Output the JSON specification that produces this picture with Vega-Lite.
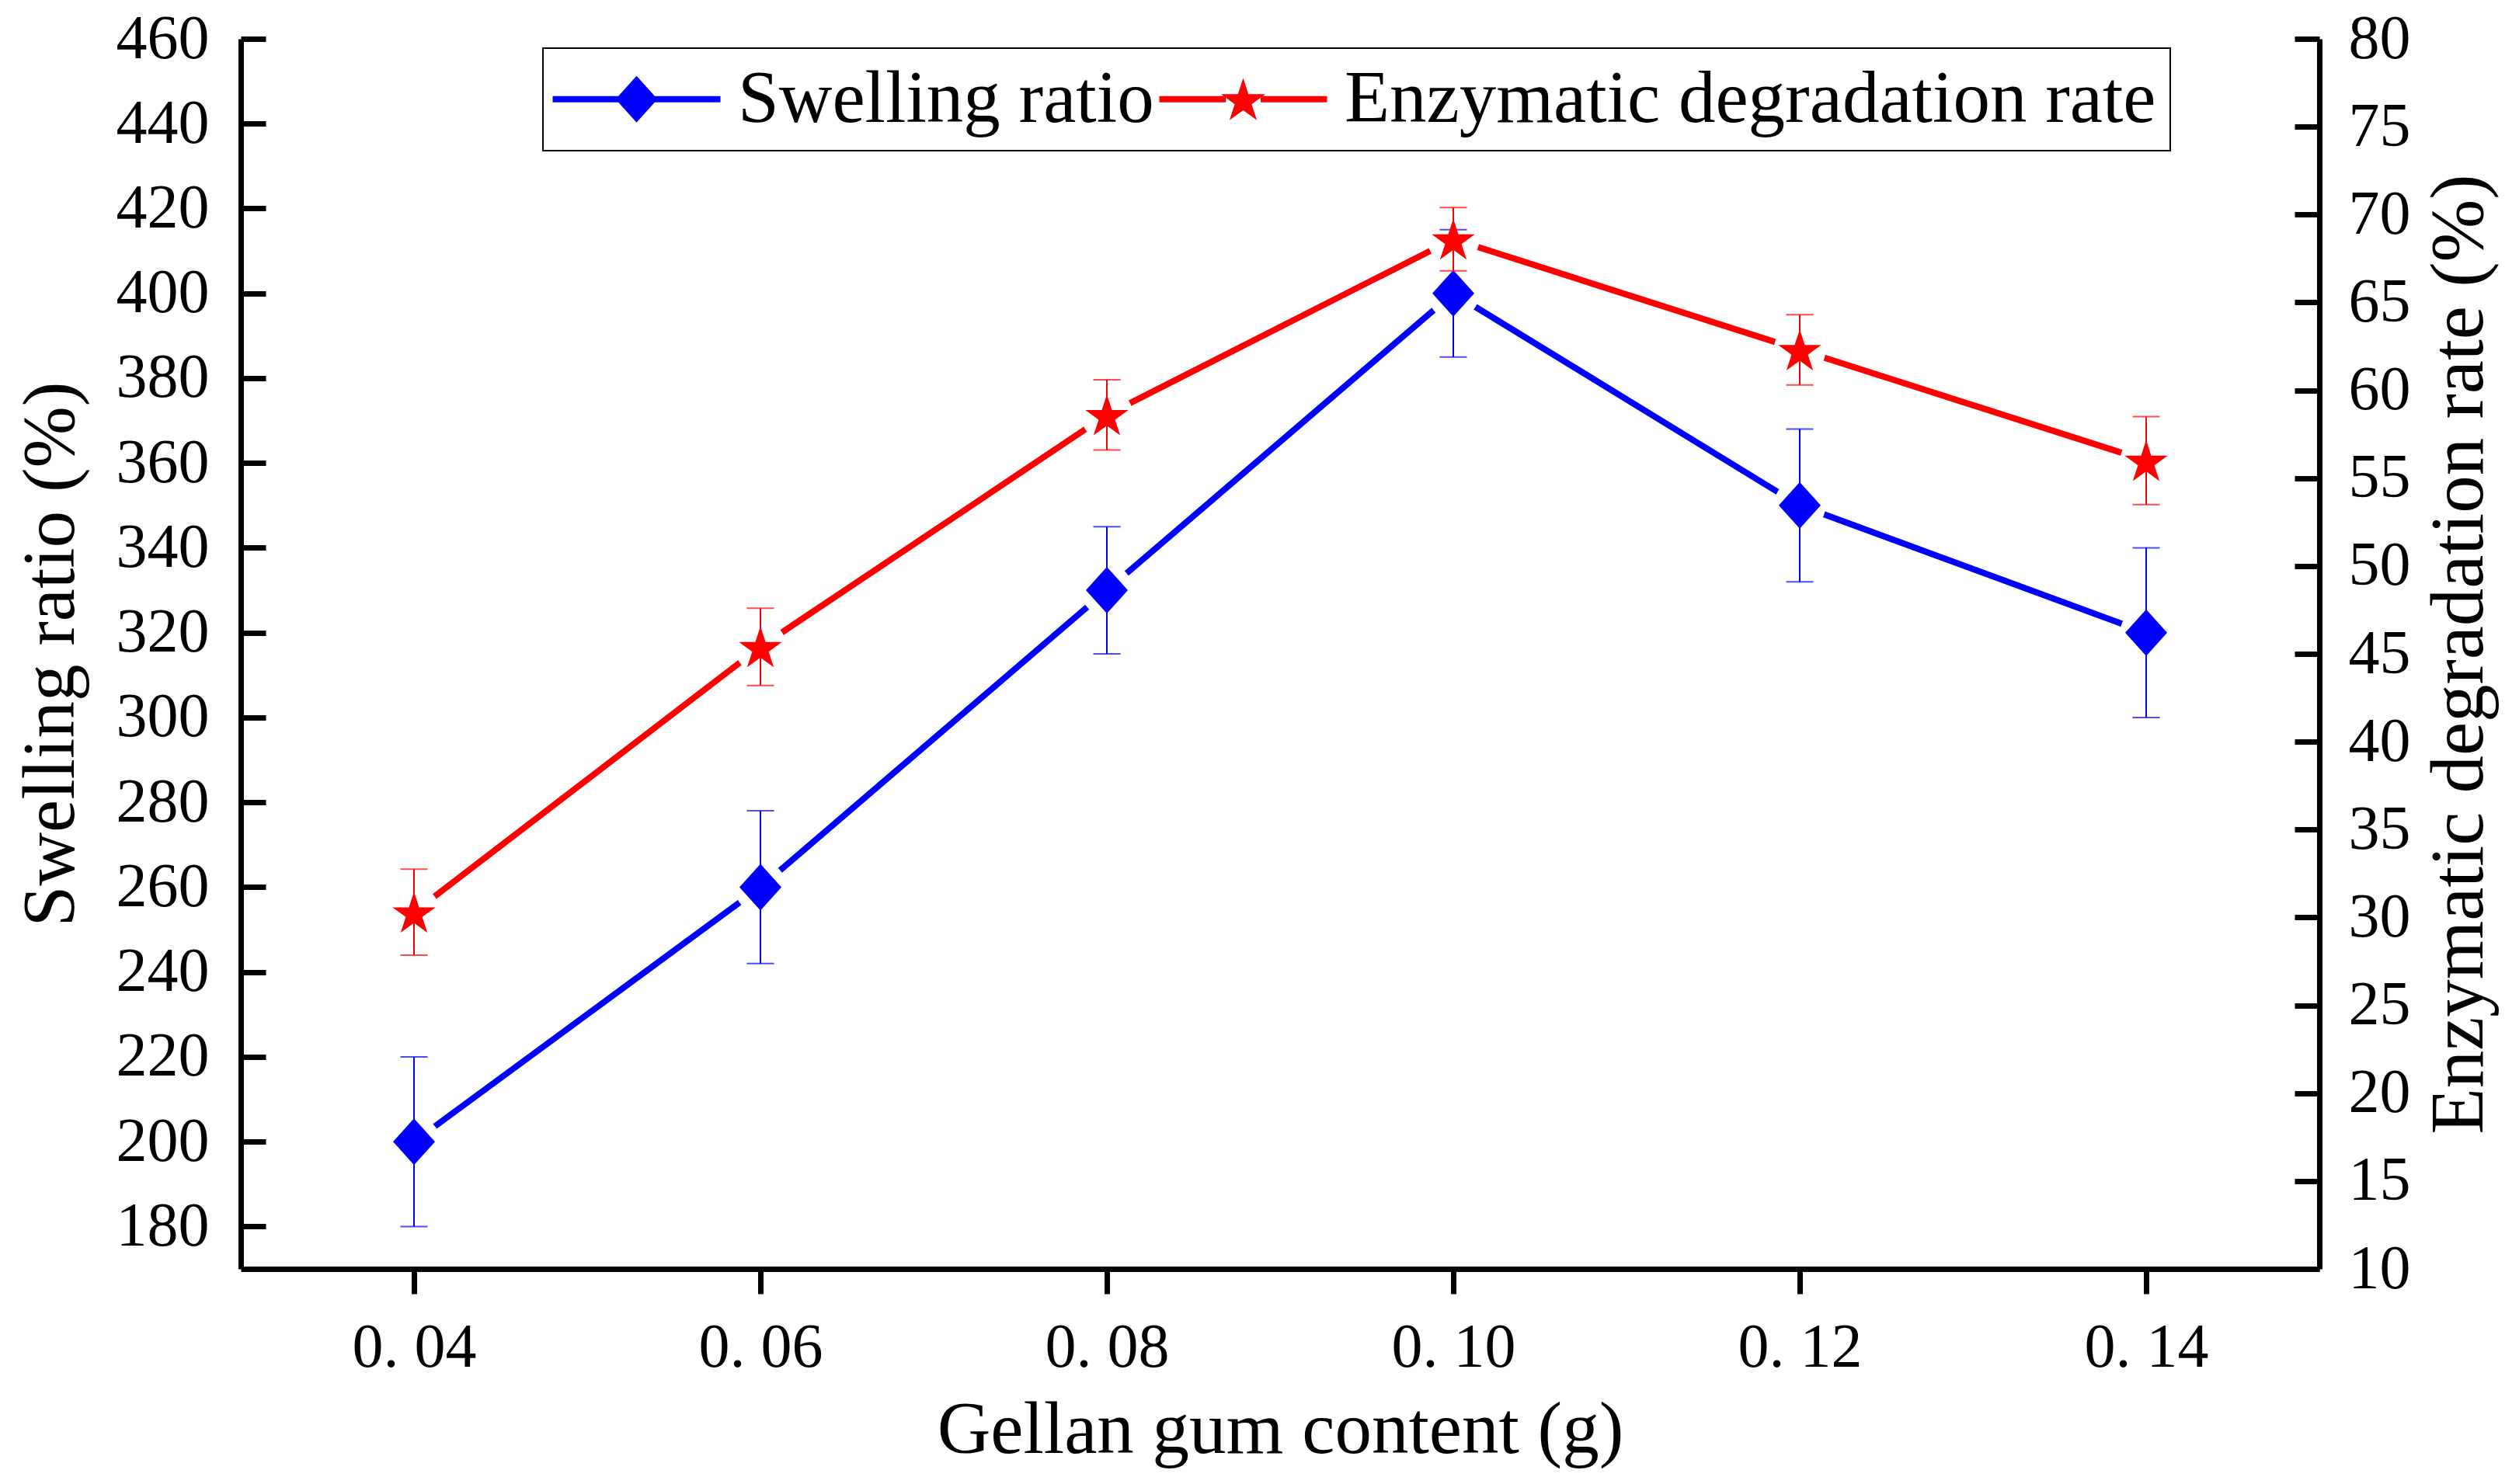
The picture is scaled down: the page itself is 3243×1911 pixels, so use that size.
{
  "$schema": "https://vega.github.io/schema/vega-lite/v6.json",
  "description": "Swelling ratio and enzymatic degradation rate against gellan gum content.",
  "width": 2676,
  "height": 1584,
  "autosize": {"type": "none"},
  "padding": {"left": 310, "top": 50, "right": 257, "bottom": 277},
  "background": "white",
  "data": {
    "values": [
      {"content": 0.04, "Swelling ratio": 200, "swelling_sd": 20, "Enzymatic degradation rate": 30.3, "degradation_sd": 2.45},
      {"content": 0.06, "Swelling ratio": 260, "swelling_sd": 18, "Enzymatic degradation rate": 45.4, "degradation_sd": 2.2},
      {"content": 0.08, "Swelling ratio": 330, "swelling_sd": 15, "Enzymatic degradation rate": 58.6, "degradation_sd": 2.0},
      {"content": 0.10, "Swelling ratio": 400, "swelling_sd": 15, "Enzymatic degradation rate": 68.6, "degradation_sd": 1.8},
      {"content": 0.12, "Swelling ratio": 350, "swelling_sd": 18, "Enzymatic degradation rate": 62.3, "degradation_sd": 2.0},
      {"content": 0.14, "Swelling ratio": 320, "swelling_sd": 20, "Enzymatic degradation rate": 56.0, "degradation_sd": 2.5}
    ]
  },
  "encoding": {
    "x": {
      "field": "content",
      "type": "quantitative",
      "scale": {"domain": [0.03, 0.15], "nice": false, "zero": false},
      "axis": {
        "title": "Gellan gum content (g)",
        "values": [0.04, 0.06, 0.08, 0.10, 0.12, 0.14],
        "labelExpr": "replace(format(datum.value, '.2f'), '.', '. ')",
        "tickSize": 32,
        "labelPadding": 30,
        "titlePadding": 20
      }
    }
  },
  "layer": [
    {
      "mark": {"type": "line", "color": "#0000ff", "strokeWidth": 8, "strokeCap": "round"},
      "encoding": {
        "y": {
          "field": "Swelling ratio",
          "type": "quantitative",
          "scale": {"domain": [170, 460], "nice": false, "zero": false},
          "axis": {
            "orient": "left",
            "title": "Swelling ratio (%)",
            "values": [180, 200, 220, 240, 260, 280, 300, 320, 340, 360, 380, 400, 420, 440, 460],
            "tickSize": -32,
            "labelPadding": 73,
            "titlePadding": 35
          }
        }
      }
    },
    {
      "mark": {"type": "line", "color": "#ff0000", "strokeWidth": 8, "strokeCap": "round"},
      "encoding": {
        "y": {
          "field": "Enzymatic degradation rate",
          "type": "quantitative",
          "scale": {"domain": [10, 80], "nice": false, "zero": false},
          "axis": {
            "orient": "right",
            "title": "Enzymatic degradation rate (%)",
            "values": [10, 15, 20, 25, 30, 35, 40, 45, 50, 55, 60, 65, 70, 75, 80],
            "tickSize": -32,
            "labelPadding": 69,
            "titlePadding": 15,
            "titleAngle": 270,
            "titleBaseline": "top",
            "titleFontSize": 97
          }
        }
      }
    },
    {
      "mark": {"type": "point", "shape": "circle", "filled": true, "color": "white", "opacity": 1, "size": 4500},
      "encoding": {
        "y": {"field": "Swelling ratio", "type": "quantitative", "scale": {"domain": [170, 460], "nice": false, "zero": false}, "axis": null}
      }
    },
    {
      "mark": {"type": "point", "shape": "circle", "filled": true, "color": "white", "opacity": 1, "size": 4500},
      "encoding": {
        "y": {"field": "Enzymatic degradation rate", "type": "quantitative", "scale": {"domain": [10, 80], "nice": false, "zero": false}, "axis": null}
      }
    },
    {
      "mark": {"type": "errorbar", "color": "#0000ff", "thickness": 2, "ticks": {"size": 35, "thickness": 2}},
      "encoding": {
        "y": {"field": "Swelling ratio", "type": "quantitative", "scale": {"domain": [170, 460], "nice": false, "zero": false}, "axis": null, "title": null},
        "yError": {"field": "swelling_sd"}
      }
    },
    {
      "mark": {"type": "point", "shape": "M0,-1L0.9,0L0,1L-0.9,0Z", "filled": true, "color": "#0000ff", "opacity": 1, "size": 3600},
      "encoding": {
        "y": {"field": "Swelling ratio", "type": "quantitative", "scale": {"domain": [170, 460], "nice": false, "zero": false}, "axis": null}
      }
    },
    {
      "mark": {"type": "point", "shape": "M0,-0.905L0.2245,-0.214L0.951,-0.214L0.363,0.213L0.588,0.904L0,0.477L-0.588,0.904L-0.363,0.213L-0.951,-0.214L-0.2245,-0.214Z", "filled": true, "color": "#ff0000", "opacity": 1, "size": 3400},
      "encoding": {
        "y": {"field": "Enzymatic degradation rate", "type": "quantitative", "scale": {"domain": [10, 80], "nice": false, "zero": false}, "axis": null}
      }
    },
    {
      "mark": {"type": "errorbar", "color": "#ff0000", "thickness": 2, "ticks": {"size": 35, "thickness": 2}},
      "encoding": {
        "y": {"field": "Enzymatic degradation rate", "type": "quantitative", "scale": {"domain": [10, 80], "nice": false, "zero": false}, "axis": null, "title": null},
        "yError": {"field": "degradation_sd"}
      }
    },
    {
      "transform": [{"fold": ["Swelling ratio", "Enzymatic degradation rate"], "as": ["series", "v"]}],
      "mark": {"type": "point", "filled": true, "opacity": 0},
      "encoding": {
        "color": {
          "field": "series",
          "type": "nominal",
          "scale": {"domain": ["Swelling ratio", "Enzymatic degradation rate"], "range": ["#0000ff", "#ff0000"]},
          "legend": {"title": null}
        },
        "shape": {
          "field": "series",
          "type": "nominal",
          "scale": {
            "domain": ["Swelling ratio", "Enzymatic degradation rate"],
            "range": [
              "M-3.6,-0.135L-0.6,-0.135L-0.6,0.135L-3.6,0.135Z M0,-1L0.9,0L0,1L-0.9,0Z M0.6,-0.135L3.6,-0.135L3.6,0.135L0.6,0.135Z",
              "M-3.6,-0.135L-0.75,-0.135L-0.75,0.135L-3.6,0.135Z M0,-0.905L0.2245,-0.214L0.951,-0.214L0.363,0.213L0.588,0.904L0,0.477L-0.588,0.904L-0.363,0.213L-0.951,-0.214L-0.2245,-0.214Z M0.75,-0.135L3.6,-0.135L3.6,0.135L0.75,0.135Z"
            ]
          },
          "legend": {"title": null}
        }
      }
    }
  ],
  "resolve": {"scale": {"y": "independent"}},
  "config": {
    "view": {"stroke": null},
    "font": "Liberation Serif",
    "axis": {
      "grid": false,
      "domainColor": "black",
      "domainWidth": 7,
      "tickColor": "black",
      "tickWidth": 7,
      "labelFont": "Liberation Serif",
      "labelFontSize": 80,
      "labelColor": "black",
      "labelFlush": false,
      "labelOverlap": false,
      "titleFont": "Liberation Serif",
      "titleFontSize": 95,
      "titleFontWeight": "normal",
      "titleColor": "black"
    },
    "legend": {
      "orient": "none",
      "legendX": 389,
      "legendY": 12,
      "direction": "horizontal",
      "labelFont": "Liberation Serif",
      "labelFontSize": 95,
      "labelColor": "black",
      "symbolSize": 3600,
      "symbolStrokeWidth": 0,
      "symbolOpacity": 1,
      "symbolOffset": 55,
      "labelOffset": 83,
      "columnPadding": 6,
      "padding": 18,
      "strokeColor": "black",
      "strokeWidth": 2,
      "fillColor": "white",
      "labelLimit": 2000
    }
  }
}
